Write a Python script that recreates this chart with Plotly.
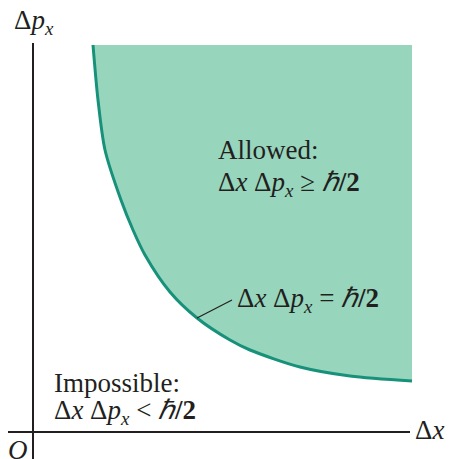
import plotly.graph_objects as go

# curve dx * dp = hbar/2 (arbitrary units)
curve_dx = [60, 65, 72, 88, 100, 112, 137, 164, 197, 217, 267, 317, 379]
curve_dp = [387, 332, 282, 232, 202, 177, 140, 114, 92, 82, 65, 56, 51]

# extent of the shaded "allowed" region
region_dx_max = 379
region_dp_max = 387

FILL = "#97d6bd"
EDGE = "#17917a"
INK = "#231f20"
SERIF = "Liberation Serif"

fig = go.Figure()

# allowed region: curve then top-right corner
fig.add_trace(go.Scatter(
    x=curve_dx + [region_dx_max, curve_dx[0]],
    y=curve_dp + [region_dp_max, region_dp_max],
    fill="toself", fillcolor=FILL, mode="none", hoverinfo="skip",
))
fig.add_trace(go.Scatter(
    x=curve_dx, y=curve_dp, mode="lines",
    line=dict(color=EDGE, width=3, shape="spline", smoothing=0.8),
    hoverinfo="skip",
))

# axes
fig.add_shape(type="line", x0=-28, x1=377, y0=0, y1=0, line=dict(color=INK, width=2))
fig.add_shape(type="line", x0=0, x1=0, y0=-35, y1=389, line=dict(color=INK, width=2))
# leader line to the curve
fig.add_shape(type="line", x0=164, y0=114, x1=199, y1=132, line=dict(color=INK, width=1.2))


def label(x, y, text, anchor="left"):
    fig.add_annotation(x=x, y=y, text=text, showarrow=False, xanchor=anchor, yanchor="middle",
                       font=dict(family=SERIF, size=27, color=INK), align="left")


hb = "<i>ℏ</i><b>/2</b>"
dxdp = "Δ<i>x</i> Δ<i>p<sub>x</sub></i>"
label(-21, 410, "Δ<i>p<sub>x</sub></i>")
label(183, 282, "Allowed:")
label(183, 248, dxdp + " ≥ " + hb)
label(202, 132, dxdp + " = " + hb)
label(19, 49, "Impossible:")
label(19, 20, dxdp + " < " + hb)
label(380, 2, "Δ<i>x</i>")
label(-15, -18, "<i>O</i>", anchor="center")

# page body adds an 8px margin, so the ranges are shifted to compensate
fig.update_layout(
    width=457, height=459,
    margin=dict(l=0, r=0, t=0, b=0),
    paper_bgcolor="white", plot_bgcolor="white",
    showlegend=False,
    xaxis=dict(range=[-25, 432], visible=False),
    yaxis=dict(range=[-35, 424], visible=False),
)

fig.write_html("out.html")
